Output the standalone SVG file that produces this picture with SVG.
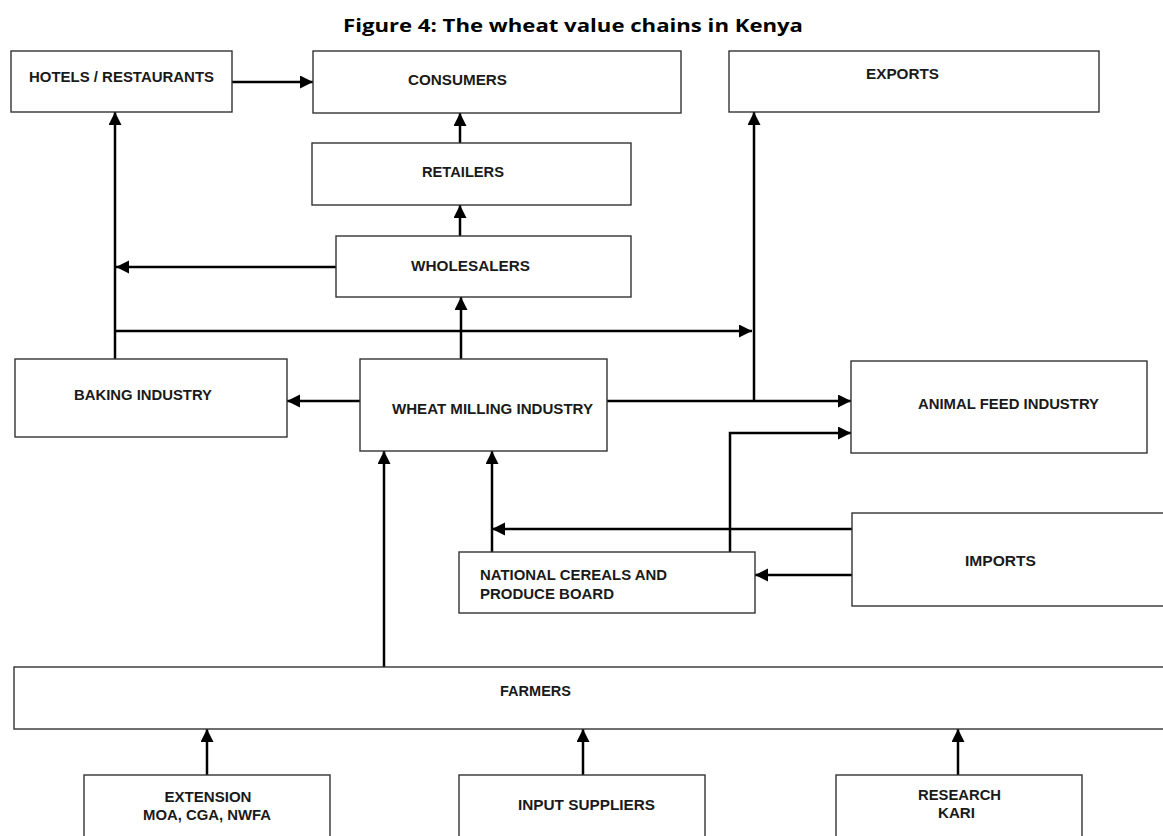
<svg xmlns="http://www.w3.org/2000/svg" width="1163" height="836" viewBox="0 0 1163 836">
<defs>
<marker id="ah" markerUnits="userSpaceOnUse" markerWidth="14" markerHeight="14" refX="13" refY="6.5" orient="auto">
<path d="M0,0 L13,6.5 L0,13 z" fill="#000"/>
</marker>
<style>
.box{fill:#fff;stroke:#333;stroke-width:1.4}
.lbl{font-family:"Liberation Sans",Arial,sans-serif;font-weight:bold;font-size:15px;fill:#1a1a1a}
.title{font-family:"Open Sans","Liberation Sans",sans-serif;font-weight:bold;font-size:18px;fill:#000}
.con path{fill:none;stroke:#000;stroke-width:2.5;marker-end:url(#ah)}
</style>
</defs>
<rect width="1163" height="836" fill="#fff"/>
<text class="title" x="573" y="32" text-anchor="middle" textLength="460" lengthAdjust="spacingAndGlyphs">Figure 4: The wheat value chains in Kenya</text>

<g class="con">
<path d="M232,82 H313"/>
<path d="M460,143 V113"/>
<path d="M460,236 V205"/>
<path d="M336,267 H116"/>
<path d="M115,359 V112"/>
<path d="M115,331 H752"/>
<path d="M754,401 V112"/>
<path d="M461,359 V297"/>
<path d="M360,401 H287"/>
<path d="M607,401 H851"/>
<path d="M730,552 V433 H851"/>
<path d="M852,529 H492"/>
<path d="M492,552 V451"/>
<path d="M852,575 H755"/>
<path d="M384,667 V451"/>
<path d="M207,775 V729"/>
<path d="M583,775 V729"/>
<path d="M958,775 V729"/>
</g>

<g id="hotels"><rect class="box" x="11" y="51" width="221" height="61"/><text class="lbl" x="121.5" y="82" text-anchor="middle" textLength="185" lengthAdjust="spacingAndGlyphs">HOTELS / RESTAURANTS</text></g>
<g id="consumers"><rect class="box" x="313" y="51" width="368" height="62"/><text class="lbl" x="457.5" y="85" text-anchor="middle" textLength="99" lengthAdjust="spacingAndGlyphs">CONSUMERS</text></g>
<g id="exports"><rect class="box" x="729" y="51" width="370" height="61"/><text class="lbl" x="902.5" y="79" text-anchor="middle" textLength="73" lengthAdjust="spacingAndGlyphs">EXPORTS</text></g>
<g id="retailers"><rect class="box" x="312" y="143" width="319" height="62"/><text class="lbl" x="463" y="177" text-anchor="middle" textLength="82" lengthAdjust="spacingAndGlyphs">RETAILERS</text></g>
<g id="wholesalers"><rect class="box" x="336" y="236" width="295" height="61"/><text class="lbl" x="470.5" y="271" text-anchor="middle" textLength="119" lengthAdjust="spacingAndGlyphs">WHOLESALERS</text></g>
<g id="baking"><rect class="box" x="15" y="359" width="272" height="78"/><text class="lbl" x="143" y="400" text-anchor="middle" textLength="138" lengthAdjust="spacingAndGlyphs">BAKING INDUSTRY</text></g>
<g id="milling"><rect class="box" x="360" y="359" width="247" height="92"/><text class="lbl" x="492.5" y="414" text-anchor="middle" textLength="201" lengthAdjust="spacingAndGlyphs">WHEAT MILLING INDUSTRY</text></g>
<g id="animalfeed"><rect class="box" x="851" y="361" width="296" height="92"/><text class="lbl" x="1008.5" y="409" text-anchor="middle" textLength="181" lengthAdjust="spacingAndGlyphs">ANIMAL FEED INDUSTRY</text></g>
<g id="imports"><rect class="box" x="852" y="513" width="320" height="93"/><text class="lbl" x="1000.5" y="566" text-anchor="middle" textLength="71" lengthAdjust="spacingAndGlyphs">IMPORTS</text></g>
<g id="ncpb"><rect class="box" x="459" y="552" width="296" height="61"/><text class="lbl" x="480" y="580" textLength="187" lengthAdjust="spacingAndGlyphs">NATIONAL CEREALS AND</text><text class="lbl" x="480" y="599" textLength="134" lengthAdjust="spacingAndGlyphs">PRODUCE BOARD</text></g>
<g id="farmers"><rect class="box" x="14" y="667" width="1160" height="62"/><text class="lbl" x="535.5" y="696" text-anchor="middle" textLength="71" lengthAdjust="spacingAndGlyphs">FARMERS</text></g>
<g id="extension"><rect class="box" x="84" y="775" width="246" height="70"/><text class="lbl" x="208" y="802" text-anchor="middle" textLength="87" lengthAdjust="spacingAndGlyphs">EXTENSION</text><text class="lbl" x="207" y="820" text-anchor="middle" textLength="128" lengthAdjust="spacingAndGlyphs">MOA, CGA, NWFA</text></g>
<g id="input"><rect class="box" x="459" y="775" width="246" height="70"/><text class="lbl" x="586.5" y="810" text-anchor="middle" textLength="137" lengthAdjust="spacingAndGlyphs">INPUT SUPPLIERS</text></g>
<g id="research"><rect class="box" x="836" y="775" width="246" height="70"/><text class="lbl" x="959.5" y="800" text-anchor="middle" textLength="83" lengthAdjust="spacingAndGlyphs">RESEARCH</text><text class="lbl" x="956.5" y="818" text-anchor="middle" textLength="37" lengthAdjust="spacingAndGlyphs">KARI</text></g>
</svg>
